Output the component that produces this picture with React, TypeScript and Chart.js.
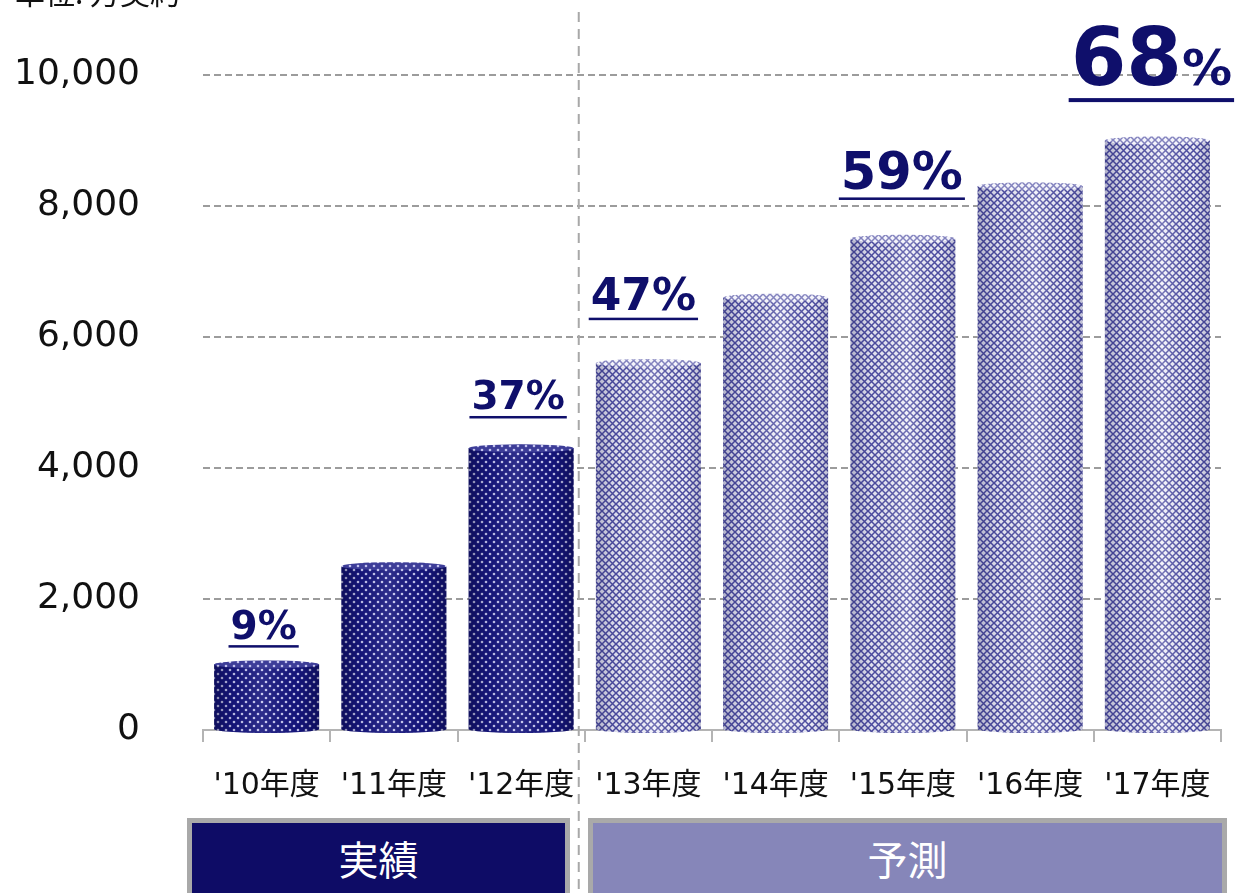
import React, { useEffect, useRef } from 'react';
import { Chart, registerables } from 'chart.js';

Chart.register(...registerables);

// ---- data ----
const categories = ["'10年度", "'11年度", "'12年度", "'13年度", "'14年度", "'15年度", "'16年度", "'17年度"];
const contracts = [1000, 2500, 4300, 5600, 6600, 7500, 8300, 9000];
const isActual = [true, true, true, false, false, false, false, false];
const shareLabels = ['9%', '', '37%', '47%', '', '59%', '', '68%'];
const yTicks = [0, 2000, 4000, 6000, 8000, 10000];
const unitLabel = '単位: 万契約';
const periodLabels = ['実績', '予測'];

// ---- styles (not data) ----
const NAVY = '#0f0f6b';
const shareStyle: Record<number, { num: number; pct: number; lift: number; dx: number }> = {
  0: { num: 39, pct: 39, lift: 26, dx: -3 },
  2: { num: 39, pct: 39, lift: 39, dx: -3 },
  3: { num: 44, pct: 44, lift: 53, dx: -5 },
  5: { num: 51, pct: 51, lift: 50, dx: -1 },
  7: { num: 80, pct: 50, lift: 56, dx: -6 },
};
const FONT_LATIN = '"DejaVu Sans", "Noto Sans CJK JP", sans-serif';
const FONT_CJK = '"Noto Sans CJK JP", "DejaVu Sans", sans-serif';

function makeDotPattern(ctx: CanvasRenderingContext2D) {
  const c = document.createElement('canvas');
  c.width = 8;
  c.height = 8;
  const g = c.getContext('2d')!;
  g.fillStyle = '#16167e';
  g.fillRect(0, 0, 8, 8);
  g.fillStyle = '#c6c6f0';
  [[2, 2], [6, 6]].forEach(([x, y]) => {
    g.beginPath();
    g.arc(x, y, 1.3, 0, Math.PI * 2);
    g.fill();
  });
  return ctx.createPattern(c, 'repeat')!;
}

function makeMeshPattern(ctx: CanvasRenderingContext2D) {
  const s = 7;
  const c = document.createElement('canvas');
  c.width = s;
  c.height = s;
  const g = c.getContext('2d')!;
  g.fillStyle = '#f0f0fa';
  g.fillRect(0, 0, s, s);
  g.strokeStyle = '#4e4ea2';
  g.lineWidth = 1.5;
  g.beginPath();
  g.moveTo(-1, -1);
  g.lineTo(s + 1, s + 1);
  g.moveTo(s + 1, -1);
  g.lineTo(-1, s + 1);
  g.stroke();
  return ctx.createPattern(c, 'repeat')!;
}

const RY = 4;

function shade(ctx: CanvasRenderingContext2D, left: number, width: number, actual: boolean) {
  const g = ctx.createLinearGradient(left, 0, left + width, 0);
  if (actual) {
    g.addColorStop(0, 'rgba(0,0,30,0.35)');
    g.addColorStop(0.18, 'rgba(0,0,30,0.08)');
    g.addColorStop(0.45, 'rgba(255,255,255,0.10)');
    g.addColorStop(0.8, 'rgba(0,0,30,0.05)');
    g.addColorStop(1, 'rgba(0,0,30,0.35)');
  } else {
    g.addColorStop(0, 'rgba(30,30,90,0.30)');
    g.addColorStop(0.2, 'rgba(30,30,90,0.08)');
    g.addColorStop(0.55, 'rgba(255,255,255,0.20)');
    g.addColorStop(0.85, 'rgba(30,30,90,0.04)');
    g.addColorStop(1, 'rgba(30,30,90,0.25)');
  }
  return g;
}

const cylinderPlugin = {
  id: 'cylinders',
  afterDatasetsDraw(chart: any) {
    const ctx: CanvasRenderingContext2D = chart.ctx;
    const meta = chart.getDatasetMeta(0);
    const fills = chart.data.datasets[0].backgroundColor as any[];
    meta.data.forEach((el: any, i: number) => {
      const { x, y, base, width } = el.getProps(['x', 'y', 'base', 'width'], true);
      const left = x - width / 2;
      const actual = isActual[i];
      const g = shade(ctx, left, width, actual);
      ctx.save();
      ctx.beginPath();
      ctx.ellipse(x, base, width / 2, RY, 0, 0, Math.PI);
      ctx.closePath();
      ctx.fillStyle = fills[i];
      ctx.fill();
      ctx.beginPath();
      ctx.rect(left, y, width, base - y);
      ctx.ellipse(x, base, width / 2, RY, 0, 0, Math.PI);
      ctx.fillStyle = g;
      ctx.fill();
      ctx.beginPath();
      ctx.ellipse(x, y, width / 2, RY, 0, 0, Math.PI * 2);
      ctx.fillStyle = fills[i];
      ctx.fill();
      ctx.fillStyle = actual ? 'rgba(180,180,230,0.25)' : 'rgba(255,255,255,0.3)';
      ctx.fill();
      ctx.restore();
    });
  },
};

const annotationPlugin = {
  id: 'annotations',
  afterDraw(chart: any) {
    const ctx: CanvasRenderingContext2D = chart.ctx;
    const xs = chart.scales.x;
    const boundary = (xs.getPixelForValue(2) + xs.getPixelForValue(3)) / 2 - 6;
    ctx.save();
    ctx.strokeStyle = '#a8a8a8';
    ctx.lineWidth = 2;
    ctx.setLineDash([10, 7]);
    ctx.beginPath();
    ctx.moveTo(boundary, 12);
    ctx.lineTo(boundary, chart.height);
    ctx.stroke();
    ctx.restore();

    const meta = chart.getDatasetMeta(0);
    shareLabels.forEach((label, i) => {
      if (!label) return;
      const st = shareStyle[i];
      const el = meta.data[i];
      const num = label.replace('%', '');
      ctx.save();
      ctx.fillStyle = NAVY;
      ctx.textBaseline = 'alphabetic';
      ctx.textAlign = 'left';
      ctx.font = `bold ${st.num}px ${FONT_LATIN}`;
      const wNum = ctx.measureText(num).width;
      ctx.font = `bold ${st.pct}px ${FONT_LATIN}`;
      const wPct = ctx.measureText('%').width;
      const total = wNum + wPct;
      const left = el.x + st.dx - total / 2;
      const baseline = el.y - st.lift;
      ctx.font = `bold ${st.num}px ${FONT_LATIN}`;
      ctx.fillText(num, left, baseline);
      ctx.font = `bold ${st.pct}px ${FONT_LATIN}`;
      ctx.fillText('%', left + wNum, baseline);
      const th = Math.max(2.5, st.num / 20);
      const off = st.num * 0.17;
      ctx.fillRect(left - 2, baseline + off, total + 4, th);
      ctx.restore();
    });
  },
};

export default function App() {
  const ref = useRef<HTMLCanvasElement>(null);

  useEffect(() => {
    const canvas = ref.current!;
    const ctx = canvas.getContext('2d')!;
    const dot = makeDotPattern(ctx);
    const mesh = makeMeshPattern(ctx);
    const fills = isActual.map((a) => (a ? dot : mesh));

    const chart = new Chart(ctx, {
      type: 'bar',
      data: {
        labels: categories,
        datasets: [
          {
            data: contracts,
            backgroundColor: fills as any,
            borderWidth: 0,
            categoryPercentage: 1,
            barPercentage: 0.825,
          },
        ],
      },
      options: {
        animation: false,
        responsive: false,
        devicePixelRatio: 1,
        layout: { padding: { top: 75, right: 19, left: 0, bottom: 0 } },
        plugins: {
          legend: { display: false },
          tooltip: { enabled: false },
          title: { display: false },
        },
        scales: {
          x: {
            grid: {
              display: true,
              drawOnChartArea: false,
              drawTicks: true,
              tickLength: 12,
              color: '#b4b4b4',
              lineWidth: 2,
            },
            border: { display: true, color: '#b4b4b4', width: 2 },
            ticks: {
              color: '#111',
              font: { family: FONT_LATIN, size: 30 },
              padding: 26,
              maxRotation: 0,
              autoSkip: false,
            },
            afterFit: (s: any) => {
              s.height = 163;
            },
          },
          y: {
            min: 0,
            max: 10000,
            afterBuildTicks: (s: any) => {
              s.ticks = yTicks.map((v) => ({ value: v }));
            },
            grid: {
              drawTicks: false,
              color: '#9c9c9c',
              lineWidth: 2,
            },
            border: { display: false, dash: [7, 4] },
            ticks: {
              color: '#111',
              font: { family: FONT_LATIN, size: 36 },
              padding: 63,
              callback: (v: any) => Number(v).toLocaleString('en-US'),
            },
            afterFit: (s: any) => {
              s.width = 203;
              s.paddingTop = 22;
              s.paddingBottom = 22;
            },
          },
        },
      },
      plugins: [cylinderPlugin, annotationPlugin],
    });
    return () => chart.destroy();
  }, []);

  const boxBase: React.CSSProperties = {
    position: 'absolute',
    top: 818,
    height: 110,
    border: '5px solid #a9a9a9',
    boxSizing: 'border-box',
    color: '#fff',
    fontFamily: FONT_CJK,
    fontSize: 40,
    lineHeight: '40px',
    textAlign: 'center',
    paddingTop: 15,
  };

  return (
    <div
      style={{
        position: 'absolute',
        left: 0,
        top: 0,
        width: 1240,
        height: 893,
        overflow: 'hidden',
        background: '#fff',
      }}
    >
      <canvas ref={ref} width={1240} height={893} style={{ position: 'absolute', left: 0, top: 0 }} />
      <div
        style={{
          position: 'absolute',
          left: 15,
          top: -24,
          fontFamily: FONT_CJK,
          fontSize: 30,
          lineHeight: '30px',
          color: '#111',
          whiteSpace: 'nowrap',
        }}
      >
        {unitLabel}
      </div>
      <div style={{ ...boxBase, left: 187, width: 383, background: '#0e0c66' }}>{periodLabels[0]}</div>
      <div
        style={{
          ...boxBase,
          left: 588,
          width: 639,
          background: '#8686b9',
        }}
      >
        {periodLabels[1]}
      </div>
    </div>
  );
}
